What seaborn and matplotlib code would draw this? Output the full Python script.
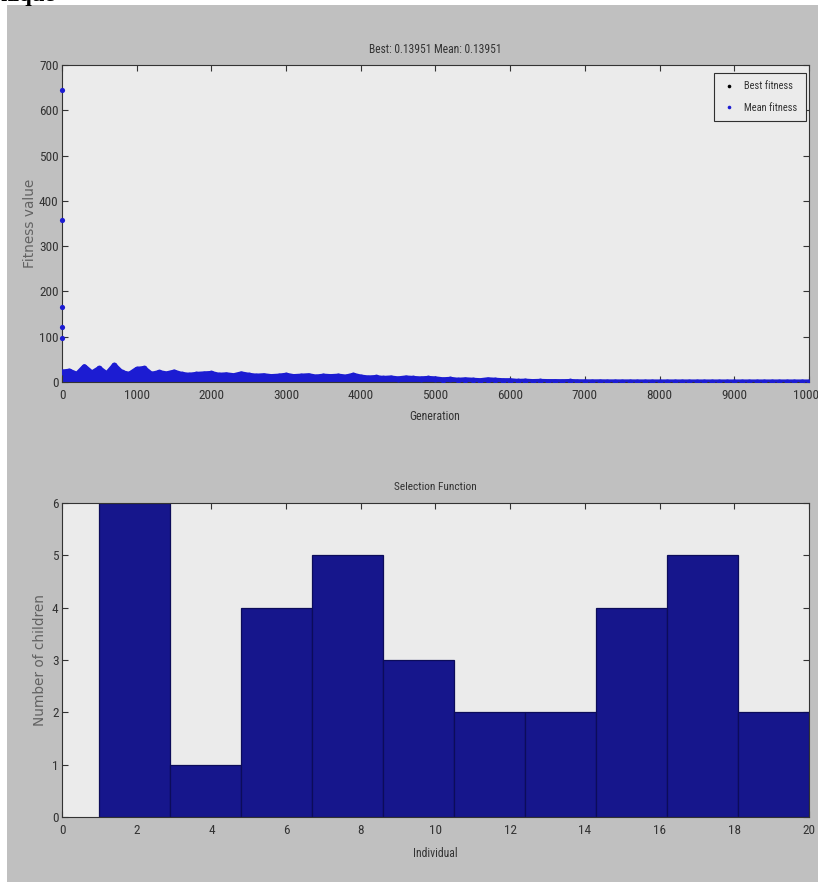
import numpy as np
import matplotlib
matplotlib.use("Agg")
import matplotlib.pyplot as plt
from matplotlib.patches import Rectangle
from matplotlib.lines import Line2D
import seaborn as sns

# ---- GA progress: fitness per generation (sampled every 100 generations) ----
generations = list(range(0, 10001, 100))
mean_fitness = [
    22, 24, 17, 34, 20, 30, 18, 37, 21, 17,
    28, 30, 17, 21, 18, 22, 17, 15, 17, 18,
    19, 15, 16, 14, 18, 15, 13, 14, 12, 13,
    15, 12, 13, 14, 11, 13, 12, 13, 11, 15,
    11, 9, 10, 8, 9, 7, 9, 8, 7, 8,
    7, 5, 6, 4, 5, 4, 3, 5, 4, 3,
    3, 1.5, 2, 1, 1.5, 1, 1, 0.8, 1.2, 0.6,
    0.5, 0.4, 0.5, 0.3, 0.3, 0.25, 0.3, 0.2, 0.2, 0.2,
    0.18, 0.2, 0.16, 0.16, 0.15, 0.15, 0.15, 0.14, 0.14, 0.14,
    0.14, 0.14, 0.14, 0.14, 0.14, 0.14, 0.14, 0.14, 0.14, 0.14,
    0.13951,
]
best_fitness = [
    2.5, 2.2, 2.0, 1.8, 1.7, 1.6, 1.5, 1.4, 1.3, 1.2,
    1.1, 1.0, 0.95, 0.9, 0.85, 0.8, 0.75, 0.7, 0.68, 0.65,
    0.6, 0.58, 0.55, 0.52, 0.5, 0.48, 0.46, 0.44, 0.42, 0.4,
    0.38, 0.36, 0.35, 0.34, 0.33, 0.32, 0.31, 0.3, 0.29, 0.28,
    0.27, 0.26, 0.25, 0.24, 0.23, 0.22, 0.21, 0.2, 0.2, 0.19,
    0.19, 0.18, 0.18, 0.17, 0.17, 0.17, 0.16, 0.16, 0.16, 0.16,
    0.15, 0.15, 0.15, 0.15, 0.15, 0.15, 0.15, 0.14, 0.14, 0.14,
    0.14, 0.14, 0.14, 0.14, 0.14, 0.14, 0.14, 0.14, 0.14, 0.14,
    0.14, 0.14, 0.14, 0.14, 0.14, 0.14, 0.14, 0.14, 0.14, 0.14,
    0.14, 0.14, 0.14, 0.14, 0.14, 0.14, 0.14, 0.14, 0.14, 0.14,
    0.13951,
]
# first generations of the run, before the population settles
early_generations = [1, 2, 3, 4, 5]
early_mean = [645, 358, 165, 122, 97]

best_final = 0.13951
mean_final = 0.13951

# ---- selection: children per individual bin ----
bin_edges = list(np.linspace(1, 20, 11))
children_counts = [6, 1, 4, 5, 3, 2, 2, 4, 5, 2]
bin_centers = [(a + b) / 2 for a, b in zip(bin_edges[:-1], bin_edges[1:])]

# ---- styling ----
sns.set_style("ticks")
narrow = ["Roboto Condensed", "Archivo Narrow", "DejaVu Sans"]
plt.rcParams["font.family"] = narrow
panel_gray = "#c0c0c0"
axes_bg = "#ebebeb"
ink = "#333333"
label_gray = "#626262"
mean_blue = "#1c1cd2"
bar_blue = "#16168c"

W, H = 818, 882
fig = plt.figure(figsize=(W / 100, H / 100), dpi=100, facecolor="white")
fig.patches.append(Rectangle((7 / W, 0), 1, (H - 4.5) / H, transform=fig.transFigure,
                             facecolor=panel_gray, edgecolor="none", zorder=-10))
fig.text(0.0, 1 - 1.0 / H, "nique", fontfamily="Liberation Serif", fontweight="bold",
         fontsize=16.5, va="baseline", ha="left", color="black")


def frame(ax):
    ax.set_facecolor(axes_bg)
    for s in ax.spines.values():
        s.set_visible(True)
        s.set_color(ink)
        s.set_linewidth(0.8)
    ax.tick_params(direction="in", length=4, width=0.8, color=ink, labelcolor=ink,
                   top=True, right=True, labelsize=9.5)
    ax.tick_params(axis="x", pad=5)
    ax.tick_params(axis="y", pad=2.5)


# ---- top: fitness value vs generation ----
ax1 = fig.add_axes([62 / W, 1 - 382 / H, 747 / W, 317 / H])
frame(ax1)
ax1.fill_between(generations, 0, mean_fitness, color=mean_blue, linewidth=0, zorder=2)
sns.lineplot(x=generations, y=best_fitness, ax=ax1, color="black", lw=0,
             marker="o", markersize=3.4, markeredgewidth=0, zorder=1)
sns.lineplot(x=generations, y=mean_fitness, ax=ax1, color=mean_blue, lw=3.6,
             marker="o", markersize=4.2, markeredgewidth=0, zorder=3)
sns.scatterplot(x=early_generations, y=early_mean, ax=ax1, color=mean_blue, s=14,
                linewidth=0, zorder=4, clip_on=False)
ax1.set_xlim(0, 10000)
ax1.set_ylim(0, 700)
ax1.set_xticks(range(0, 10001, 1000))
ax1.set_yticks(range(0, 701, 100))
ax1.set_title(f"Best: {best_final} Mean: {mean_final}", fontsize=8.3, color=ink, pad=8.5)
ax1.set_xlabel("Generation", fontsize=8.5, color=ink, va="top")
ax1.xaxis.set_label_coords(0.4987, -28 / 317)
ax1.set_ylabel("Fitness value", fontfamily="DejaVu Sans", fontsize=9.8, color=label_gray)
ax1.yaxis.set_label_coords(-25 / 747, 0.5)

handles = [
    Line2D([], [], ls="none", marker="o", markersize=2.6, color="black", markeredgewidth=0),
    Line2D([], [], ls="none", marker="o", markersize=2.6, color=mean_blue, markeredgewidth=0),
]
leg = ax1.legend(handles, ["Best fitness", "Mean fitness"], loc="upper right",
                 bbox_to_anchor=(0.996, 0.975), fontsize=7.5, frameon=True,
                 fancybox=False, edgecolor="#303030", facecolor=axes_bg, framealpha=1,
                 handlelength=1.2, handletextpad=0.9, labelspacing=1.1, borderpad=0.8,
                 borderaxespad=0)
leg.get_frame().set_linewidth(0.8)
for t in leg.get_texts():
    t.set_color(ink)

# ---- bottom: selection function histogram ----
ax2 = fig.add_axes([62 / W, 1 - 817 / H, 747 / W, 314 / H])
frame(ax2)
sns.histplot(x=bin_centers, weights=children_counts, bins=bin_edges, ax=ax2,
             color=bar_blue, edgecolor="#0c0c5a", linewidth=0.9, alpha=1)
ax2.set_xlim(0, 20)
ax2.set_ylim(0, 6)
ax2.set_xticks(range(0, 21, 2))
ax2.set_yticks(range(0, 7))
ax2.set_title("Selection Function", fontsize=8.2, color=ink, pad=9)
ax2.set_xlabel("Individual", fontsize=8.5, color=ink, va="top")
ax2.xaxis.set_label_coords(0.5, -30 / 314)
ax2.set_ylabel("Number of children", fontfamily="DejaVu Sans", fontsize=9.8,
               color=label_gray)
ax2.yaxis.set_label_coords(-15 / 747, 0.5)

fig.savefig("out.png", dpi=100, facecolor="white")
